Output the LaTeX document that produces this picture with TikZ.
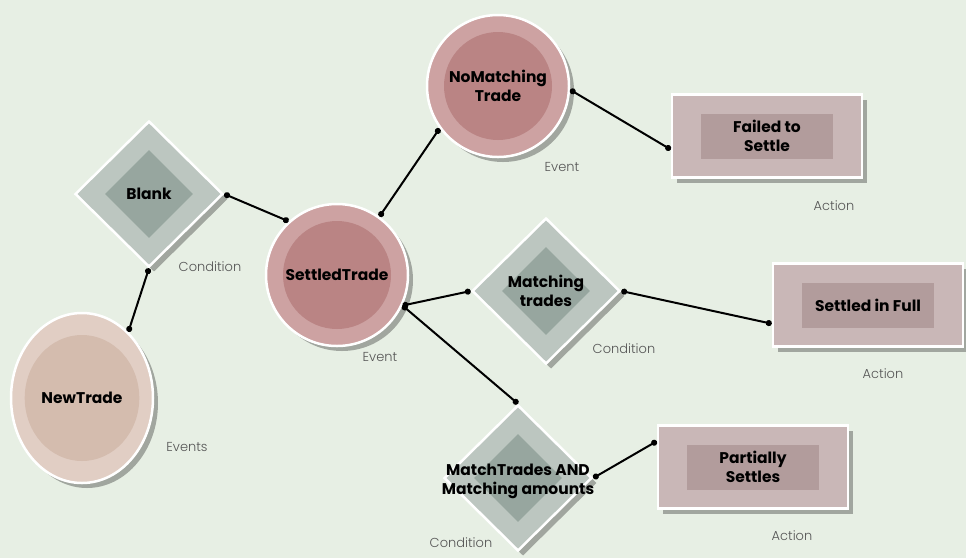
\documentclass[tikz,border=0pt]{standalone}
\usepackage{fontspec}
\setmainfont{Poppins}
\newfontfamily\tagfont{Poppins}[UprightFont={* Light}]
\usetikzlibrary{positioning, arrows.meta, shapes.geometric, shadows}

\definecolor{bgcol}{RGB}{231,239,228}
\definecolor{evout}{RGB}{205,162,162}
\definecolor{evin}{RGB}{186,132,132}
\definecolor{ntout}{RGB}{225,206,196}
\definecolor{ntin}{RGB}{212,188,174}
\definecolor{cdout}{RGB}{188,198,192}
\definecolor{cdin}{RGB}{151,166,159}
\definecolor{acout}{RGB}{201,183,183}
\definecolor{acin}{RGB}{178,156,156}
\definecolor{tagcol}{RGB}{85,85,85}

\begin{document}
\begin{tikzpicture}[x=1pt, y=-1pt,
  shade off/.style={drop shadow={shadow xshift=5pt, shadow yshift=-5pt, opacity=0.3, fill=black}},
  outer/.style={draw=white, line width=2.5pt, inner sep=0pt, shade off},
  bold text/.style={font=\bfseries\fontsize{15.5}{19}\selectfont},
  event/.style={outer, circle, fill=evout, minimum size=142pt},
  eventin/.style={circle, fill=evin, inner sep=0pt, minimum size=108pt, align=center, bold text},
  cond/.style={outer, diamond, fill=cdout, minimum width=148pt, minimum height=146pt},
  condin/.style={diamond, fill=cdin, inner sep=0pt, minimum width=88pt, minimum height=88pt},
  ctext/.style={align=center, bold text},
  act/.style={outer, rectangle, fill=acout, minimum width=190pt, minimum height=83pt},
  actin/.style={rectangle, fill=acin, inner sep=0pt, minimum width=132pt, minimum height=45pt, align=center, bold text},
  tag/.style={text=tagcol, font=\tagfont\fontsize{13}{15}\selectfont},
  link/.style={line width=2pt, {Circle[length=6pt]}-{Circle[length=6pt]}}]

  \useasboundingbox (0,0) rectangle (966,558);
  \fill[bgcol] (0,0) rectangle (966,558);

  % events
  \node[outer, ellipse, fill=ntout, minimum width=142pt, minimum height=170pt] (newtrade) at (82,398) {};
  \node[ellipse, fill=ntin, inner sep=0pt, minimum width=102pt, minimum height=126pt, bold text] (newtrade-in) at (newtrade) {NewTrade};
  \node[event] (settled) at (337,275) {};
  \node[eventin] (settled-in) at (settled) {SettledTrade};
  \node[event] (nomatch) at (498,86) {};
  \node[eventin] (nomatch-in) at (nomatch) {NoMatching\\Trade};

  % conditions
  \node[cond] (blank) at (149,194) {};
  \node[condin] (blank-in) at (blank) {};
  \node[ctext] (blank-t) at (blank) {Blank};
  \node[cond] (matching) at (546,291) {};
  \node[condin] (matching-in) at (matching) {};
  \node[ctext] (matching-t) at (matching) {Matching\\trades};
  \node[cond] (amounts) at (518,478) {};
  \node[condin] (amounts-in) at (amounts) {};
  \node[ctext] (amounts-t) at (518,481) {MatchTrades AND\\Matching amounts};

  % actions
  \node[act] (failed) at (767,136) {};
  \node[actin] (failed-in) at (failed) {Failed to\\Settle};
  \node[act] (full) at (868,305) {};
  \node[actin] (full-in) at (full) {Settled in Full};
  \node[act] (partial) at (753,467) {};
  \node[actin] (partial-in) at (partial) {Partially\\Settles};

  % captions
  \foreach \n/\p/\t in {tag-nt/{(187,447)}/Events, tag-st/{(380,357)}/Event, tag-nm/{(562,167)}/Event,
      tag-bl/{(210,267)}/Condition, tag-mt/{(624,349)}/Condition, tag-am/{(461,543)}/Condition,
      tag-fa/{(834,206)}/Action, tag-fu/{(883,374)}/Action, tag-pa/{(792,536)}/Action}
    \node[tag] (\n) at \p {\t};

  % connectors
  \draw[link] (newtrade.55) -- (blank.south);
  \draw[link] (blank.east) -- (settled.132);
  \draw[link] (settled.54) -- (nomatch.216);
  \draw[link] (nomatch.357) -- (failed.188);
  \draw[link] (settled.-25) -- (matching.west);
  \draw[link] (matching.east) -- (full.191);
  \draw[link] (settled.-25) -- (amounts.north);
  \draw[link] (amounts.east) -- (partial.165);
\end{tikzpicture}
\end{document}
